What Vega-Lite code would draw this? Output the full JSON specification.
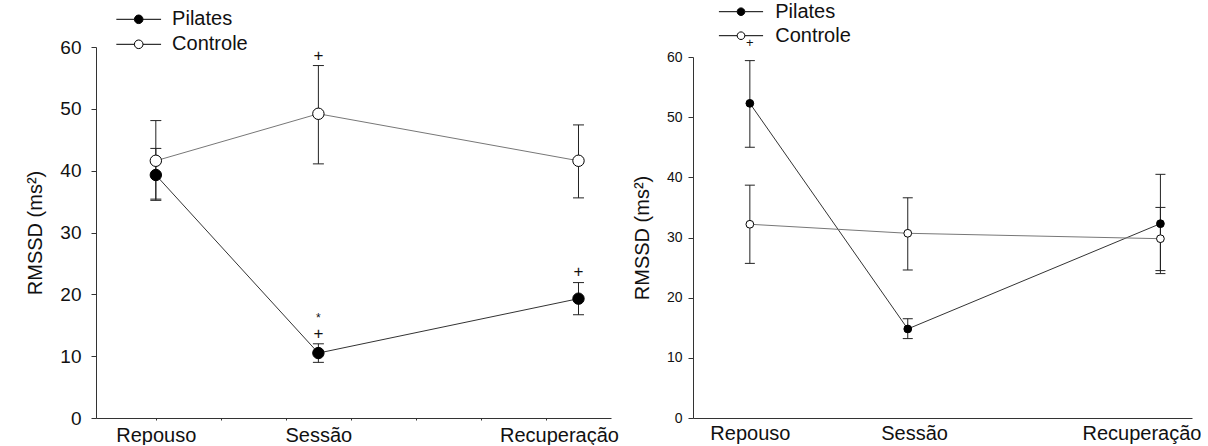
{
  "$schema": "https://vega.github.io/schema/vega-lite/v6.json",
  "background": "white",
  "padding": {"left": 25, "top": 1, "right": 0, "bottom": 0},
  "config": {
    "font": "Liberation Sans",
    "view": {"stroke": null},
    "axis": {"grid": false, "domainColor": "#333", "tickColor": "#333", "labelColor": "#111", "titleColor": "#111", "titleFontWeight": "normal", "labelFont": "Liberation Sans", "titleFont": "Liberation Sans"},
    "legend": {"labelFont": "Liberation Sans", "labelColor": "#111"}
  },
  "datasets": {
    "left": [
      {"g": "Pilates", "s": "Repouso", "t": 1, "m": 39.3, "lo": 35.2, "hi": 43.6},
      {"g": "Pilates", "s": "Sessão", "t": 3.5, "m": 10.5, "lo": 9.0, "hi": 12.0},
      {"g": "Pilates", "s": "Recuperação", "t": 7.5, "m": 19.3, "lo": 16.7, "hi": 21.9},
      {"g": "Controle", "s": "Repouso", "t": 1, "m": 41.6, "lo": 35.4, "hi": 48.1},
      {"g": "Controle", "s": "Sessão", "t": 3.5, "m": 49.2, "lo": 41.1, "hi": 57.0},
      {"g": "Controle", "s": "Recuperação", "t": 7.5, "m": 41.6, "lo": 35.6, "hi": 47.4}
    ],
    "right": [
      {"g": "Pilates", "s": "Repouso", "t": 1, "m": 52.3, "lo": 45.0, "hi": 59.4},
      {"g": "Pilates", "s": "Sessão", "t": 3.5, "m": 14.8, "lo": 13.2, "hi": 16.5},
      {"g": "Pilates", "s": "Recuperação", "t": 7.5, "m": 32.3, "lo": 24.0, "hi": 40.5},
      {"g": "Controle", "s": "Repouso", "t": 1, "m": 32.2, "lo": 25.7, "hi": 38.7},
      {"g": "Controle", "s": "Sessão", "t": 3.5, "m": 30.7, "lo": 24.6, "hi": 36.6},
      {"g": "Controle", "s": "Recuperação", "t": 7.5, "m": 29.8, "lo": 24.5, "hi": 35.0}
    ],
    "leftAnn": [
      {"t": 3.5, "y": 58.6, "label": "+", "k": "plus"},
      {"t": 3.5, "y": 16.2, "label": "*", "k": "star"},
      {"t": 3.5, "y": 13.6, "label": "+", "k": "plus"},
      {"t": 7.5, "y": 23.6, "label": "+", "k": "plus"}
    ],
    "rightAnn": [
      {"t": 1, "y": 62.3, "label": "+", "k": "plus"}
    ]
  },
  "spacing": 13,
  "hconcat": [
    {
      "width": 515,
      "height": 371,
      "data": {"name": "left"},
      "encoding": {
        "x": {"field": "t", "type": "quantitative", "scale": {"domain": [0.08, 8], "nice": false, "zero": false},
          "axis": {"title": null, "values": [1, 2, 3, 3.5, 4, 5, 6, 7, 7.2], "tickSize": 2, "labelPadding": 5, "labelFontSize": 20, "labelFlush": false, "labelOverlap": false,
            "tickOpacity": {"condition": {"test": "datum.value == 3.5 || datum.value == 7.2", "value": 0}, "value": 1},
            "labelExpr": "datum.value == 1 ? 'Repouso' : datum.value == 3.5 ? 'Sessão' : datum.value == 7.2 ? 'Recuperação' : ''"}}
      },
      "layer": [
        {
          "mark": {"type": "line", "strokeWidth": 1},
          "encoding": {
            "y": {"field": "m", "type": "quantitative", "scale": {"domain": [0, 60], "nice": false},
              "axis": {"title": "RMSSD (ms²)", "titleFontSize": 20, "titlePadding": 14, "values": [0, 10, 20, 30, 40, 50, 60], "labelFontSize": 19, "tickSize": 5, "labelPadding": 10}},
            "color": {"field": "g", "type": "nominal", "scale": {"domain": ["Controle", "Pilates"], "range": ["#777777", "#333333"]}, "legend": null}
          }
        },
        {
          "mark": {"type": "rule", "color": "#222", "strokeWidth": 1},
          "encoding": {"y": {"field": "lo", "type": "quantitative"}, "y2": {"field": "hi"}}
        },
        {
          "mark": {"type": "tick", "orient": "horizontal", "size": 11, "thickness": 1, "color": "#222", "opacity": 1},
          "encoding": {"y": {"field": "lo", "type": "quantitative"}}
        },
        {
          "mark": {"type": "tick", "orient": "horizontal", "size": 11, "thickness": 1, "color": "#222", "opacity": 1},
          "encoding": {"y": {"field": "hi", "type": "quantitative"}}
        },
        {
          "mark": {"type": "point", "shape": "circle", "filled": true, "size": 130, "stroke": "black", "strokeWidth": 1, "opacity": 1},
          "encoding": {
            "y": {"field": "m", "type": "quantitative"},
            "fill": {"field": "g", "type": "nominal", "scale": {"domain": ["Pilates", "Controle"], "range": ["black", "white"]},
              "legend": {"orient": "none", "legendX": 32.7, "legendY": -37.7, "title": null, "padding": 0,
                "symbolType": "M-5.2,0H-1M1,0H5.2M1,0A1,1,0,1,1,-1,0A1,1,0,1,1,1,0", "symbolSize": 74,
                "symbolStrokeColor": "black", "symbolStrokeWidth": 1, "labelOffset": 23.4, "labelFontSize": 20, "rowPadding": 5}}
          }
        },
        {
          "data": {"name": "leftAnn"},
          "mark": {"type": "text", "baseline": "middle", "align": "center", "color": "#111"},
          "encoding": {
            "y": {"field": "y", "type": "quantitative"},
            "text": {"field": "label"},
            "size": {"field": "k", "type": "nominal", "scale": {"domain": ["plus", "star"], "range": [17, 12]}, "legend": null}
          }
        }
      ]
    },
    {
      "width": 499,
      "height": 371,
      "data": {"name": "right"},
      "encoding": {
        "x": {"field": "t", "type": "quantitative", "scale": {"domain": [0.1, 8], "nice": false, "zero": false},
          "axis": {"title": null, "values": [1, 3.6, 7.2], "ticks": false, "tickSize": 0, "labelPadding": 5, "labelFontSize": 20, "labelFlush": false, "labelOverlap": false,
            "labelExpr": "datum.value == 1 ? 'Repouso' : datum.value == 3.6 ? 'Sessão' : 'Recuperação'"}}
      },
      "layer": [
        {
          "mark": {"type": "line", "strokeWidth": 1},
          "encoding": {
            "y": {"field": "m", "type": "quantitative", "scale": {"domain": [0, 60], "range": [371, 10], "nice": false},
              "axis": {"title": "RMSSD (ms²)", "titleFontSize": 20, "titlePadding": 14, "values": [0, 10, 20, 30, 40, 50, 60], "labelFontSize": 14, "tickSize": 5, "labelPadding": 6}},
            "color": {"field": "g", "type": "nominal", "scale": {"domain": ["Controle", "Pilates"], "range": ["#777777", "#333333"]}, "legend": null}
          }
        },
        {
          "mark": {"type": "rule", "color": "#222", "strokeWidth": 1},
          "encoding": {"y": {"field": "lo", "type": "quantitative"}, "y2": {"field": "hi"}}
        },
        {
          "mark": {"type": "tick", "orient": "horizontal", "size": 10, "thickness": 1, "color": "#222", "opacity": 1},
          "encoding": {"y": {"field": "lo", "type": "quantitative"}}
        },
        {
          "mark": {"type": "tick", "orient": "horizontal", "size": 10, "thickness": 1, "color": "#222", "opacity": 1},
          "encoding": {"y": {"field": "hi", "type": "quantitative"}}
        },
        {
          "mark": {"type": "point", "shape": "circle", "filled": true, "size": 60, "stroke": "black", "strokeWidth": 1, "opacity": 1},
          "encoding": {
            "y": {"field": "m", "type": "quantitative"},
            "fill": {"field": "g", "type": "nominal", "scale": {"domain": ["Pilates", "Controle"], "range": ["black", "white"]},
              "legend": {"orient": "none", "legendX": 38, "legendY": -45.3, "title": null, "padding": 0,
                "symbolType": "M-5.8,0H-1M1,0H5.8M1,0A1,1,0,1,1,-1,0A1,1,0,1,1,1,0", "symbolSize": 58,
                "symbolStrokeColor": "black", "symbolStrokeWidth": 1, "labelOffset": 24.2, "labelFontSize": 20, "rowPadding": 4}}
          }
        },
        {
          "data": {"name": "rightAnn"},
          "mark": {"type": "text", "baseline": "middle", "align": "center", "color": "#111", "fontSize": 13},
          "encoding": {
            "y": {"field": "y", "type": "quantitative"},
            "text": {"field": "label"}
          }
        }
      ]
    }
  ],
  "resolve": {"scale": {"fill": "independent", "color": "independent"}, "legend": {"fill": "independent"}}
}
